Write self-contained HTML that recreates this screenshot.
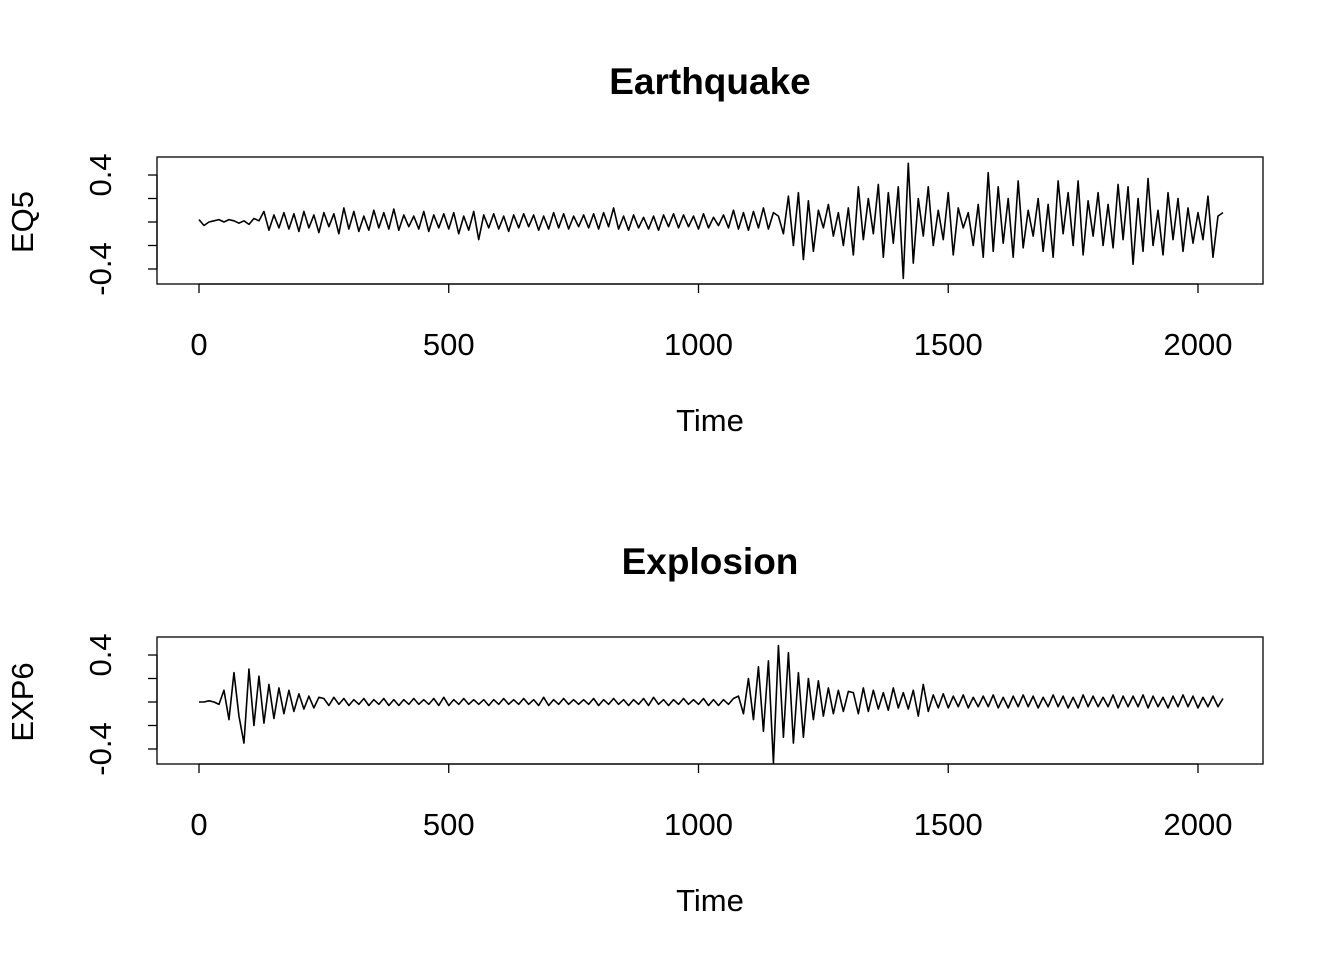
<!DOCTYPE html>
<html><head><meta charset="utf-8"><style>
html,body{margin:0;padding:0;background:#fff;}
svg text{font-family:"Liberation Sans",Arial,sans-serif;fill:#000;}
</style></head><body>
<svg id="chart" width="1344" height="960" xmlns="http://www.w3.org/2000/svg"></svg>
<script>
const xTicks=[0,500,1000,1500,2000];
const yTicks=[-0.4,-0.2,0,0.2,0.4];
const yTickLabels=["-0.4","","","","0.4"];
const timeStep=10;
const eq5=[0.02,-0.03,0.0,0.01,0.02,0.0,0.02,0.01,-0.01,0.01,-0.02,0.03,0.01,
0.09,-0.07,0.06,-0.05,0.08,-0.06,0.07,-0.08,0.09,-0.05,
0.06,-0.09,0.08,-0.04,0.07,-0.1,0.12,-0.06,0.09,-0.08,
0.05,-0.07,0.1,-0.05,0.08,-0.06,0.11,-0.07,0.06,-0.04,
0.05,-0.06,0.09,-0.08,0.06,-0.05,0.07,-0.06,0.08,-0.1,
0.05,-0.07,0.09,-0.15,0.06,-0.05,0.07,-0.06,0.05,-0.08,
0.06,-0.05,0.07,-0.04,0.06,-0.07,0.05,-0.06,0.08,-0.05,
0.07,-0.06,0.05,-0.04,0.06,-0.05,0.07,-0.06,0.08,-0.04,
0.12,-0.06,0.05,-0.07,0.06,-0.05,0.04,-0.06,0.05,-0.07,
0.06,-0.04,0.07,-0.05,0.06,-0.04,0.05,-0.06,0.07,-0.05,
0.04,-0.03,0.06,-0.05,0.1,-0.06,0.08,-0.07,0.09,-0.05,
0.12,-0.06,0.08,
0.05,-0.1,0.22,-0.2,0.25,-0.32,0.18,-0.25,0.1,-0.05,
0.15,-0.12,0.08,-0.2,0.12,-0.28,0.3,-0.15,0.2,-0.1,
0.32,-0.3,0.25,-0.18,0.3,-0.48,0.5,-0.35,0.2,-0.12,
0.3,-0.2,0.1,-0.15,0.25,-0.28,0.12,-0.05,0.08,-0.2,
0.15,-0.3,0.42,-0.25,0.3,-0.18,0.2,-0.3,0.35,-0.22,
0.1,-0.12,0.2,-0.25,0.15,-0.3,0.35,-0.1,0.25,-0.2,
0.35,-0.28,0.18,-0.12,0.25,-0.2,0.15,-0.22,0.32,-0.15,
0.3,-0.36,0.2,-0.25,0.37,-0.2,0.1,-0.28,0.25,-0.15,
0.2,-0.25,0.12,-0.18,0.08,-0.15,0.22,-0.3,0.05,0.08];
const exp6=[0,0,0.01,0,-0.02,
0.1,-0.15,0.25,-0.12,-0.35,0.28,-0.2,0.22,-0.18,0.15,-0.14,0.12,-0.1,0.1,-0.08,0.07,-0.06,0.05,-0.05,0.04,
0.03,-0.03,0.04,-0.02,0.03,-0.03,0.02,-0.02,0.03,-0.03,
0.02,-0.02,0.03,-0.03,0.02,-0.03,0.02,-0.02,0.03,-0.02,
0.02,-0.02,0.03,-0.03,0.04,-0.03,0.02,-0.02,0.03,-0.02,
0.02,-0.02,0.02,-0.03,0.02,-0.02,0.03,-0.02,0.02,-0.02,
0.03,-0.02,0.02,-0.03,0.04,-0.03,0.02,-0.02,0.03,-0.02,
0.02,-0.02,0.02,-0.02,0.03,-0.03,0.02,-0.02,0.03,-0.02,
0.02,-0.03,0.02,-0.02,0.03,-0.03,0.04,-0.02,0.02,-0.03,
0.02,-0.02,0.03,-0.02,0.02,-0.02,0.03,-0.03,0.02,-0.03,
0.02,-0.02,0.03,
0.05,-0.1,0.2,-0.15,0.3,-0.25,0.35,-0.52,0.48,-0.3,0.42,-0.35,0.25,-0.3,0.2,-0.15,0.18,-0.12,0.12,-0.1,0.1,-0.08,0.09,
0.08,-0.1,0.12,-0.08,0.1,-0.06,0.08,-0.07,0.12,-0.05,
0.08,-0.06,0.1,-0.12,0.15,-0.08,0.06,-0.05,0.07,-0.05,
0.05,-0.04,0.06,-0.05,0.04,-0.04,0.05,-0.04,0.06,-0.05,
0.04,-0.05,0.05,-0.04,0.06,-0.04,0.05,-0.05,0.04,-0.04,
0.06,-0.04,0.05,-0.05,0.04,-0.05,0.06,-0.04,0.05,-0.04,
0.04,-0.04,0.06,-0.05,0.05,-0.04,0.05,-0.04,0.06,-0.05,
0.05,-0.04,0.04,-0.05,0.05,-0.04,0.06,-0.04,0.05,-0.05,
0.04,-0.04,0.05,-0.04,0.03];

const svg=document.getElementById('chart');
const NS='http://www.w3.org/2000/svg';
function mk(tag,attrs,parent){const e=document.createElementNS(NS,tag);for(const k in attrs)e.setAttribute(k,attrs[k]);(parent||svg).appendChild(e);return e;}
const xScale=t=>199+t*(1198-199)/2000;

function panel(top,title,ylab,data,prefix){
  const g=mk('g',{});
  
  
  const y0=top+65, k=117.5;
  const yScale=v=>y0-v*k;
  const box=mk('rect',{x:157,y:top,width:1106,height:127,fill:'none',stroke:'#000','stroke-width':1.3},g);
  
  
  const tt=mk('text',{x:710,y:top-63,'text-anchor':'middle','font-size':37,'font-weight':'bold'},g);
  tt.textContent=title;
  
  
  const bot=top+127;
  const xa=mk('g',{},g);
  
  
  mk('line',{x1:xScale(xTicks[0]),x2:xScale(xTicks[xTicks.length-1]),y1:bot,y2:bot,stroke:'#000','stroke-width':1.3},xa);
  xTicks.forEach(t=>{
    mk('line',{x1:xScale(t),x2:xScale(t),y1:bot,y2:bot+9,stroke:'#000','stroke-width':1.3},xa);
    const l=mk('text',{x:xScale(t),y:bot+71,'text-anchor':'middle','font-size':31},xa);
    l.textContent=String(t);
    
    
  });
  const xt=mk('text',{x:710,y:bot+147,'text-anchor':'middle','font-size':31},g);
  xt.textContent='Time';
  
  
  const ya=mk('g',{},g);
  
  
  mk('line',{x1:157,x2:157,y1:yScale(yTicks[0]),y2:yScale(yTicks[yTicks.length-1]),stroke:'#000','stroke-width':1.3},ya);
  yTicks.forEach((v,i)=>{
    mk('line',{x1:148,x2:157,y1:yScale(v),y2:yScale(v),stroke:'#000','stroke-width':1.3},ya);
    if(yTickLabels[i]){
      const l=mk('text',{x:0,y:0,'text-anchor':'middle','font-size':31,transform:`translate(111,${yScale(v)}) rotate(-90)`},ya);
      l.textContent=yTickLabels[i];
      
      
    }
  });
  const yl=mk('text',{x:0,y:0,'text-anchor':'middle','font-size':31,transform:`translate(33,${y0}) rotate(-90)`},g);
  yl.textContent=ylab;
  
  
  const pts=data.map((v,i)=>xScale(i*timeStep).toFixed(2)+','+yScale(v).toFixed(2)).join(' ');
  const pl=mk('polyline',{points:pts,fill:'none',stroke:'#000','stroke-width':1.6,'stroke-linejoin':'round'},g);
  
  
}
panel(157,'Earthquake','EQ5',eq5,'eq5');
panel(637,'Explosion','EXP6',exp6,'exp6');
</script>
</body></html>
